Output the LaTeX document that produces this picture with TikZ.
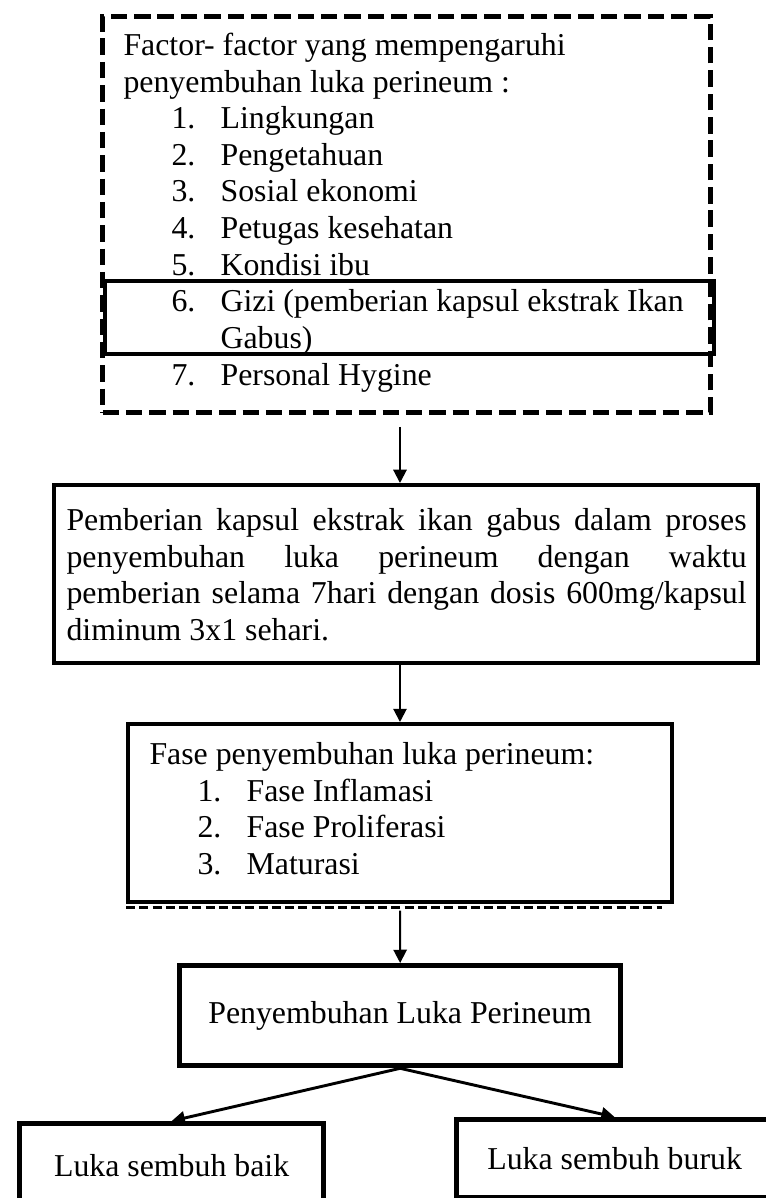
\documentclass[tikz,border=0pt]{standalone}
\usepackage{fontspec}
\setmainfont{Liberation Serif}
\usetikzlibrary{arrows.meta}
\newlength\pxu
\setlength\pxu{0.377pt}
\newcommand\itemline[2]{\hspace*{18.1pt}\makebox[18.5pt][l]{#1}#2}

\begin{document}
\begin{tikzpicture}[
    x=\pxu, y=-\pxu,
    font=\fontsize{12}{13.8}\selectfont,
    >={Triangle[length=5pt,width=5pt]},
    box/.style={
        draw,
        line width=1.5pt,
        inner sep=0pt,
        anchor=north west
    },
    dashbox/.style={
        box,
        line width=1.9pt,
        dash pattern=on 6.2pt off 2.6pt
    },
    endbox/.style={
        box,
        line width=2pt
    },
    txt/.style={
        inner sep=0pt,
        anchor=north west,
        align=left
    },
    arrow/.style={
        ->,
        line width=0.75pt
    },
    arrowb/.style={
        ->,
        line width=1.1pt
    }
]
\useasboundingbox (0,0) rectangle (766,1198);

% Factors box (dashed) with the Gizi item framed
\node[dashbox, minimum width=608\pxu, minimum height=396\pxu] (faktor) at (100,14) {};
\node[box, minimum width=609\pxu, minimum height=73\pxu] (gizi) at (103,279) {};
\node[txt] (faktortxt) at (123,28.5) {\rule{0pt}{10pt}Factor- factor yang mempengaruhi\\
    penyembuhan luka perineum :\\
    \itemline{1.}{Lingkungan}\\
    \itemline{2.}{Pengetahuan}\\
    \itemline{3.}{Sosial ekonomi}\\
    \itemline{4.}{Petugas kesehatan}\\
    \itemline{5.}{Kondisi ibu}\\
    \itemline{6.}{Gizi (pemberian kapsul ekstrak Ikan}\\
    \hspace*{36.6pt}Gabus)\\
    \itemline{7.}{Personal Hygine}};

% Intervention
\node[box, minimum width=704\pxu, minimum height=178\pxu] (pemberian) at (52,483) {};
\node[txt] (pembtxt) at (66,503.5) {\rule{0pt}{10pt}\makebox[256.4pt][s]{Pemberian kapsul ekstrak ikan gabus dalam proses}\\
    \makebox[256.4pt][s]{penyembuhan luka perineum dengan waktu}\\
    \makebox[256.4pt][s]{pemberian selama 7hari dengan dosis 600mg/kapsul}\\
    diminum 3x1 sehari.};

% Healing phases
\node[box, minimum width=544\pxu, minimum height=178\pxu] (fase) at (126,722) {};
\draw[line width=1.4pt, dash pattern=on 3.4pt off 1.6pt] ([yshift=-1.3pt]fase.south west) -- ([yshift=-1.3pt,xshift=-4.5pt]fase.south east);
\node[txt] (fasetxt) at (149,737.5) {\rule{0pt}{10pt}Fase penyembuhan luka perineum:\\
    \itemline{1.}{Fase Inflamasi}\\
    \itemline{2.}{Fase Proliferasi}\\
    \itemline{3.}{Maturasi}};

% Outcome
\node[endbox, minimum width=441\pxu, minimum height=100\pxu] (sembuh) at (177,963) {Penyembuhan Luka Perineum};
\node[endbox, minimum width=304\pxu, minimum height=84\pxu] (baik) at (17,1121) {Luka sembuh baik};
\node[endbox, minimum width=316\pxu, minimum height=78\pxu] (buruk) at (454,1117) {Luka sembuh buruk};

% Arrows
\draw[arrow, shorten <=4.5pt] (faktor.south -| fase.north) -- (pemberian.north -| fase.north);
\draw[arrow] (pemberian.south -| fase.north) -- (fase.north);
\draw[arrow, shorten <=2.5pt] (fase.south) -- (sembuh.north);
\draw[arrowb] (sembuh.south) -- (baik.north);
\draw[arrowb] (sembuh.south) -- (buruk.north);

\end{tikzpicture}
\end{document}
